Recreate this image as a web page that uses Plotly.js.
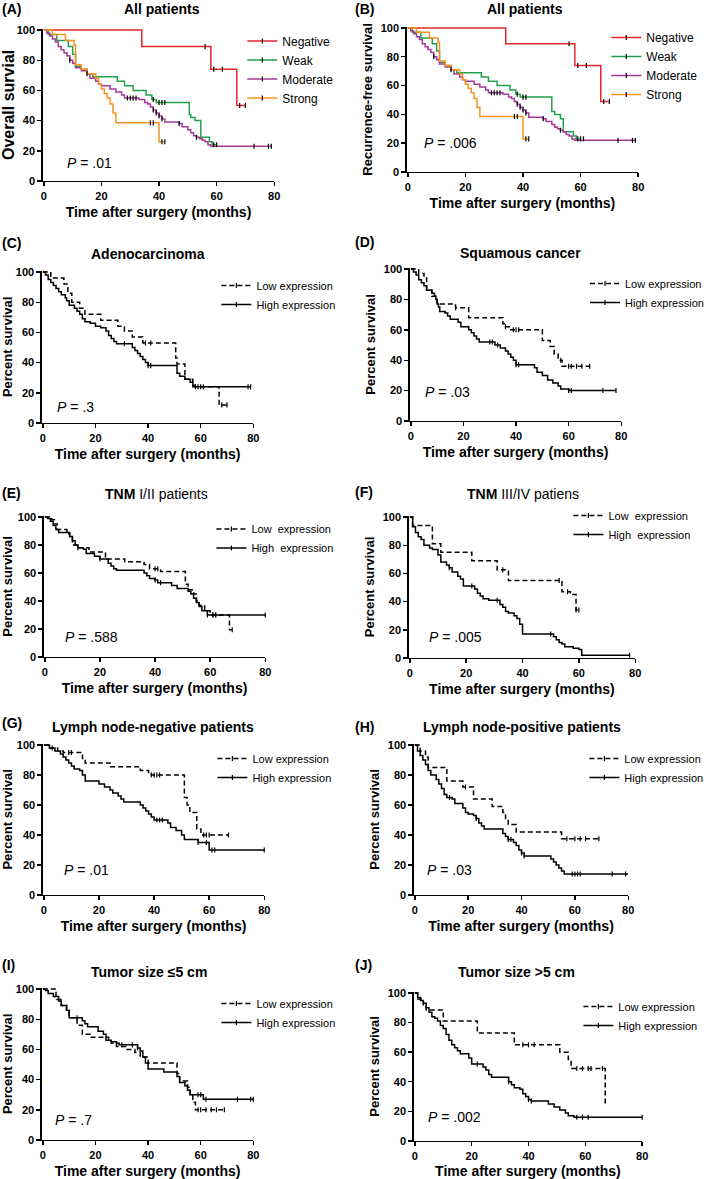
<!DOCTYPE html>
<html><head><meta charset="utf-8">
<script src="https://cdn.plot.ly/plotly-3.0.1.min.js"></script>
<style>html,body{margin:0;padding:0;background:#fff}</style>
</head><body><div id="chart" style="width:709px;height:1179px"></div>
<script>
// ---------------- DATA ----------------
// Panel A - All patients, overall survival
const aNegT = [0, 34, 58, 67, 70];
const aNegS = [100, 89, 74, 50, 50];
const aNegC = [56, 59, 62, 68, 70];
const aWeakT = [0, 1.5, 4.5, 8.5, 10, 11, 13, 15, 17, 25.5, 28, 31, 35.5, 37.5, 39, 50.5, 51, 52.5, 54.5, 57.5, 58.5, 60];
const aWeakS = [100, 97, 93, 89, 84, 76, 74, 71, 69, 66, 63, 60, 57, 54, 52, 44, 42, 40, 29, 26, 24, 24];
const aWeakC = [38, 40, 41, 42, 59, 60];
const aModT = [0,1,2,3,4,5,6,7,8,9,10,11,13,15,16,18,19,20,23,25,27,28,33,35,36,37,38,39,40,41,42,47,48,50,51,52,53,54,55,56,57,58,79];
const aModS = [100,98,96,94,92,89,87,85,83,80,78,75,73,71,68,66,64,63,61,59,57,55,54,52,51,49,47,45,43,41,39,38,36,34,32,30,29,28,27,26,24,23,23];
const aModC = [9, 15, 29, 30, 31, 32, 38, 39, 40, 41, 47, 53, 73, 78, 79];
const aStrT = [0, 3, 7.5, 10.5, 11, 13, 15, 18, 19, 20, 21, 22, 23, 24, 25, 40, 42];
const aStrS = [100, 97, 93, 90, 77, 74, 71, 68, 64, 61, 58, 55, 51, 45, 38.5, 26, 26];
const aStrC = [37, 38, 41, 42];
// Panel B - All patients, recurrence-free survival
const bNegT = [0, 34, 58, 67, 70];
const bNegS = [100, 89, 74, 49, 49];
const bNegC = [56, 59, 62, 68, 70];
const bWeakT = [0, 1.5, 4.5, 8.5, 10, 11, 13, 15, 17, 25.5, 28, 31, 35.5, 37.5, 39, 50, 51, 53, 54, 57.5, 58.5, 60];
const bWeakS = [100, 97, 93, 89, 84, 76, 74, 71, 69, 66, 63, 60, 57, 54, 52, 42, 40, 37, 28, 25, 23, 23];
const bWeakC = [38, 40, 41, 59, 60, 61];
const bModT = [0,1,2,3,4,5,6,7,8,9,10,11,13,15,16,18,19,20,23,25,27,28,33,35,36,37,38,39,40,41,42,47,48,50,51,52,53,54,55,56,57,58,79];
const bModS = [100,98,96,94,92,89,87,85,83,80,78,75,73,71,68,66,64,63,61,59,57,55,54,52,51,49,47,45,43,41,38,37,35,33,31,30,29,28,26,25,23,22,22];
const bModC = [9, 15, 29, 30, 31, 32, 38, 39, 40, 41, 47, 53, 73, 78, 79];
const bStrT = [0, 3, 7.5, 10.5, 11, 13, 15, 18, 19, 20, 21, 22, 23, 24, 25, 40, 42];
const bStrS = [100, 97, 93, 90, 77, 74, 71, 68, 64, 61, 58, 55, 51, 45, 38.5, 23, 23];
const bStrC = [37, 38, 41, 42];
// Panel C - Adenocarcinoma
const cLowT = [0, 3, 8, 9.5, 11, 14, 16, 22, 28.5, 31, 34, 38, 50.5, 51, 54, 57, 67, 70];
const cLowS = [100, 96, 92, 86, 80, 76, 72, 68, 64, 61, 57, 53, 43, 39, 29, 24, 12, 12];
const cLowC = [39, 41, 68, 70];
const cHighT = [0,1,2,3,4,5,6,7,8.5,9,10,12,13,14,15,16,18,20,22,24,25,26,27,28,34,35,36,37,38,39,40,51,52,54,56,57,58,79];
const cHighS = [100,98,95,93,91,89,87,85,83,81,78,76,74,72,69,67,66,64,63,61,58,56,54,52.5,50,48,46,44,42,40,38,33,31,29,27,25,24,24];
const cHighC = [31, 40, 41, 58, 59, 60, 61, 78, 79];
// Panel D - Squamous cancer
const dLowT = [0, 3, 5, 6, 8, 10, 17, 22, 35, 36, 38, 50, 53, 54.5, 56, 57.5, 68];
const dLowS = [100, 97, 94, 86, 82, 77, 74.5, 68, 64, 62, 60, 53, 49, 44, 40, 36, 36];
const dLowC = [17, 36, 39, 40, 41, 57, 60, 61, 63, 65, 68];
const dHighT = [0,1,2,3,4,5,6,8,9,9.5,10,10.5,11,13,14,15,18,19,22,23,24,25,26,32,34,36,37,38,39,40,47,48,50,52,54,56,57,60,78];
const dHighS = [100,98,96,93,91,89,86,84,82,80,77,75,72,71,69,67,65,62,60,58,56,54,52,50,48,46,44,42,40,37,35,32,30,27,25,23,21,20,20];
const dHighC = [30, 31, 33, 40, 41, 60, 61, 73, 78];
// Panel E - TNM I/II
const eLowT = [0, 2.5, 3.5, 4.5, 8, 9, 10, 12, 16, 22, 29, 36, 38, 42, 51, 52, 54, 55, 56, 58, 60, 67, 68];
const eLowS = [100, 98, 95, 91, 88, 86, 80, 78, 75, 70, 68, 66, 63, 61, 52, 48, 45, 40, 37, 33, 30, 19.5, 19.5];
const eLowC = [40, 41, 61, 62, 68];
const eHighT = [0,1,2,3,4,5,9,10,11,12,14,15,18,20,23,24,25,26,36,37,38,40,41,46,48,52,53,54,55,56,57,59,80];
const eHighS = [100,99,97,94,91,89,86,83,80,78,77,74,72,70,67,65,63,62,60,58,56,55,53,51,49,47,45,42,39,36,33,30,30];
const eHighC = [12, 20, 40, 42, 59, 61, 62, 80];
// Panel F - TNM III/IV
const fLowT = [0, 1, 8, 11, 22, 31, 35, 54, 57, 59, 60];
const fLowS = [100, 94, 81, 75, 69, 62.5, 55, 47, 45, 34, 34];
const fLowC = [33, 53, 56, 59, 60];
const fHighT = [0,1,2,3,4,5,7,8,10,11,13,14,15,17,18,19,23,24,25,26,28,32,33,34,35,37,38,39,40,51,52,53,54,55,58,60,61,78];
const fHighS = [100,93,89,86,84,80,78,77,73,68,66,64,61,58,56,51,49,46,44,42,41,38,36,33,32,30,28,24,17,15,13,11,10,8,7,6,2,2];
const fHighC = [14, 22, 31, 50, 78];
// Panel G - Lymph node-negative
const gLowT = [0, 1.5, 5, 7, 14, 15, 24, 35, 38, 39, 51, 52, 53, 55.5, 57, 67];
const gLowS = [100, 98, 96, 95, 91, 88, 85.5, 83, 81, 80, 65, 60, 55, 44, 40, 40];
const gLowC = [9, 10, 39, 40, 41, 42, 58, 59, 60, 67];
const gHighT = [0,2,4,6,7,8,9,10,11,13,14,15,20,22,24,25,27,28,29,35,36,37,38,39,40,45,46,48,50,51,56,60,80];
const gHighS = [100,98,96,94,92,90,88,86,84,83,80,76,74,72,70,68,66,64,62,60,58,56,54,52,50,48,45,43,40,37,35,30,30];
const gHighC = [3, 41, 42, 43, 56, 59, 61, 62, 80];
// Panel H - Lymph node-positive
const hLowT = [0, 2, 4, 5, 12, 18, 22, 29, 33, 34, 35, 38, 55, 69];
const hLowS = [100, 96, 92, 85, 76, 72, 64, 59, 55, 51, 47, 42, 37.5, 37.5];
const hLowC = [19, 57, 60, 62, 64, 69];
const hHighT = [0,1,2,3,4,5,6,8,9,10,11,12,14,15,18,19,20,22,23,24,25,26,33,34,35,37,38,39,40,41,51,52,53,54,55,56,80];
const hHighS = [100,96,93,90,87,83,80,77,74,71,67,65,64,61,58,55,54,53,51,48,46,44,41,39,37,35,33,30,28,26,24,22,20,18,16,14,14];
const hHighC = [13, 23, 35, 36, 40, 41, 59, 60, 61, 62, 74, 79];
// Panel I - Tumor size <=5 cm
const iLowT = [0, 5, 7, 9, 10, 13, 15, 18, 24, 26, 28, 32, 35, 37, 40, 51, 52, 55, 56, 57, 58, 69];
const iLowS = [100, 93, 89, 85, 81, 76, 70, 68, 66, 64, 62, 60, 58, 55, 51, 44, 39, 35, 30, 25, 20, 20];
const iLowC = [59, 60, 62, 64, 66, 69];
const iHighT = [0,1,2,4,6,7,9,10,15,16,17,21,23,24,25,26,28,29,36,37,38,39,40,46,51,52,54,55,56,61,80];
const iHighS = [100,99,97,95,92,89,86,81,79,77,75,72,70,68,66,65,64,63,61,59,55,51,47,45,42,38,36,33,30,27,27];
const iHighC = [13, 30, 34, 36, 59, 60, 62, 74, 79, 80];
// Panel J - Tumor size >5 cm
const jLowT = [0, 1, 3, 4, 10, 22, 35, 51, 54, 55, 67];
const jLowS = [100, 96, 92, 88.5, 81, 73, 65, 60, 55, 49, 24];
const jLowC = [38, 40, 42, 57, 59, 61, 62, 66];
const jHighT = [0,1,2,3,4,5,6,7,8,9,10,11,12,13,14,15,16,19,20,24,25,26,27,33,34,35,37,38,39,40,41,47,49,51,53,54,56,80];
const jHighS = [100,97,95,93,90,87,84,83,81,78,76,72,68,65,63,61,59,56,52,50,48,45,43,40,38,36,35,32,30,28,27,25,23,21,19,17,16,16];
const jHighC = [22, 33, 40, 41, 57, 59, 61, 80];

const groupNames4 = ['Negative', 'Weak', 'Moderate', 'Strong'];
const exprNames = ['Low expression', 'High expression'];
const pValues = ['.01', '.006', '.3', '.03', '.588', '.005', '.01', '.03', '.7', '.002'];
const xTicks = [0, 20, 40, 60, 80];
const yTicks = [0, 20, 40, 60, 80, 100];

// ---------------- STYLE / LAYOUT ----------------
const W = 709, H = 1179;
const FONT = 'Liberation Sans, Arial, Helvetica, sans-serif';
const COLORS4 = ['#e3262c', '#22a14c', '#a33a98', '#f6921e'];
const DASH = '5px,3px';

function g4(T1,S1,C1,T2,S2,C2,T3,S3,C3,T4,S4,C4){
  const d=[[T1,S1,C1],[T2,S2,C2],[T3,S3,C3],[T4,S4,C4]];
  return d.map((v,i)=>({name:groupNames4[i],T:v[0],S:v[1],C:v[2],color:COLORS4[i],dash:'solid'}));
}
function g2(T1,S1,C1,T2,S2,C2,nm){
  const n = nm || exprNames;
  return [{name:n[0],T:T1,S:S1,C:C1,color:'#000',dash:DASH},{name:n[1],T:T2,S:S2,C:C2,color:'#000',dash:'solid'}];
}
const exprSp = ['Low\u00a0 expression', 'High\u00a0 expression'];

// box: [x at 0, x at 80, y at 100, y at 0] in pixels
const panels = [
 {lab:'(A)', labPos:[0,9], title:'<b>All patients</b>', tPos:[162,9], box:[44,275,30,181], yTitle:'Overall survial', ySize:16, leg:[243,26.5], lfs:12, pPos:[7.3,12], curves:g4(aNegT,aNegS,aNegC,aWeakT,aWeakS,aWeakC,aModT,aModS,aModC,aStrT,aStrS,aStrC)},
 {lab:'(B)', labPos:[354,9], title:'<b>All patients</b>', tPos:[526,9], box:[409,640,28,172], yTitle:'Recurrence-free survival', ySize:13, leg:[608,23], lfs:12, pPos:[4.8,20], curves:g4(bNegT,bNegS,bNegC,bWeakT,bWeakS,bWeakC,bModT,bModS,bModC,bStrT,bStrS,bStrC)},
 {lab:'(C)', labPos:[0,243], title:'<b>Adenocarcinoma</b>', tPos:[148,254], box:[43,254,272,423], yTitle:'Percent survival', ySize:13, leg:[217,271], lfs:11, pPos:[4.5,10.6], curves:g2(cLowT,cLowS,cLowC,cHighT,cHighS,cHighC)},
 {lab:'(D)', labPos:[354,242], title:'<b>Squamous cancer</b>', tPos:[522,253], box:[412,623,269,421], yTitle:'Percent survival', ySize:13, leg:[587,269], lfs:11, pPos:[4.5,19], curves:g2(dLowT,dLowS,dLowC,dHighT,dHighS,dHighC)},
 {lab:'(E)', labPos:[0,493], title:'<b>TNM</b> I/II patients', tPos:[157,494], box:[45,266,517,657], yTitle:'Percent survival', ySize:13, leg:[212,514.5], lfs:11, pPos:[6.5,14], curves:g2(eLowT,eLowS,eLowC,eHighT,eHighS,eHighC,exprSp)},
 {lab:'(F)', labPos:[354,492], title:'<b>TNM</b> III/IV patiens', tPos:[524,494], box:[411,637,517,658], yTitle:'Percent survival', ySize:13, leg:[570,501], lfs:11, pPos:[6,15], curves:g2(fLowT,fLowS,fLowC,fHighT,fHighS,fHighC,exprSp)},
 {lab:'(G)', labPos:[0,723], title:'<b>Lymph node-negative patients</b>', tPos:[153,727], box:[44,265,745,895], yTitle:'Percent survival', ySize:13, leg:[213,744], lfs:11, pPos:[6.5,17], curves:g2(gLowT,gLowS,gLowC,gHighT,gHighS,gHighC)},
 {lab:'(H)', labPos:[354,727], title:'<b>Lymph node-positive patients</b>', tPos:[523,727], box:[416,630,745,895], yTitle:'Percent survival', ySize:13, leg:[586,744], lfs:11, pPos:[4,17], curves:g2(hLowT,hLowS,hLowC,hHighT,hHighS,hHighC)},
 {lab:'(I)', labPos:[0,965], title:'<b>Tumor size \u22645 cm</b>', tPos:[149,972], box:[43,254,989,1140], yTitle:'Percent survival', ySize:13, leg:[217,989], lfs:11, pPos:[3.8,13], curves:g2(iLowT,iLowS,iLowC,iHighT,iHighS,iHighC)},
 {lab:'(J)', labPos:[354,965], title:'<b>Tumor size >5 cm</b>', tPos:[518,972], box:[416,644,993,1141], yTitle:'Percent survival', ySize:13, leg:[580,992], lfs:11, pPos:[3.9,16], curves:g2(jLowT,jLowS,jLowC,jHighT,jHighS,jHighC)}
];

function stepAt(T, S, t){ let v = S[0]; for (let i = 0; i < T.length; i++){ if (T[i] <= t) v = S[i]; else break; } return v; }

const XPAD = 0.4, YPAD = 0.8;
const traces = [];
const layout = {
  width: W, height: H, margin: {l:0, r:0, t:0, b:0},
  paper_bgcolor: '#fff', plot_bgcolor: 'rgba(0,0,0,0)',
  font: {family: FONT, color: '#000', size: 12},
  showlegend: true, annotations: []
};

panels.forEach((p, k) => {
  const n = k + 1, sfx = n > 1 ? String(n) : '';
  const xa = 'x' + sfx, ya = 'y' + sfx, lg = 'legend' + sfx;
  const [x0, x80, y100, y0] = p.box;
  const kx = (x80 - x0) / 80, ky = (y0 - y100) / 100;
  layout['xaxis' + sfx] = {
    domain: [(x0 - XPAD * kx) / W, x80 / W], range: [-XPAD, 80], anchor: ya,
    showline: true, linecolor: '#000', linewidth: 1.4, ticks: 'outside', ticklen: 4, tickwidth: 1.4, tickcolor: '#000',
    tickvals: xTicks, showgrid: false, zeroline: false, fixedrange: true,
    tickfont: {family: FONT, size: 11, weight: 'bold', color: '#000'},
    title: {text: '<b>Time after surgery (months)</b>', font: {family: FONT, size: 14, color: '#000'}, standoff: 6}
  };
  layout['yaxis' + sfx] = {
    domain: [1 - y0 / H, 1 - (y100 - YPAD * ky) / H], range: [0, 100 + YPAD], anchor: xa,
    showline: true, linecolor: '#000', linewidth: 1.4, ticks: 'outside', ticklen: 4, tickwidth: 1.4, tickcolor: '#000',
    tickvals: yTicks, showgrid: false, zeroline: false, fixedrange: true,
    tickfont: {family: FONT, size: 11, weight: 'bold', color: '#000'},
    title: {text: '<b>' + p.yTitle + '</b>', font: {family: FONT, size: p.ySize, color: '#000'}, standoff: 5}
  };
  layout[lg] = {
    x: p.leg[0] / W, y: 1 - p.leg[1] / H, xanchor: 'left', yanchor: 'top',
    bgcolor: 'rgba(0,0,0,0)', borderwidth: 0, itemwidth: 30, tracegroupgap: 0,
    font: {family: FONT, size: p.lfs, color: '#000'}
  };
  p.curves.forEach((c) => {
    traces.push({
      type: 'scatter', mode: 'lines', x: c.T, y: c.S, xaxis: xa, yaxis: ya,
      line: {shape: 'hv', color: c.color, width: 1.5, dash: c.dash},
      showlegend: false, hoverinfo: 'skip', cliponaxis: false
    });
  });
  p.curves.forEach((c) => {
    const cx = [], cy = [];
    c.C.forEach((t) => { cx.push(t, null); cy.push(stepAt(c.T, c.S, t), null); });
    traces.push({
      type: 'scatter', mode: 'lines+markers', x: cx, y: cy, xaxis: xa, yaxis: ya,
      name: c.name, legend: lg, connectgaps: false,
      line: {shape: 'hv', color: c.color, width: 1.5, dash: c.dash},
      marker: {symbol: 'line-ns-open', size: 3.6, color: '#000', line: {color: '#000', width: 1.2}},
      hoverinfo: 'skip', cliponaxis: false
    });
  });
  layout.annotations.push({
    xref: 'paper', yref: 'paper', x: p.labPos[0] / W, y: 1 - p.labPos[1] / H, xanchor: 'left', yanchor: 'middle',
    text: '<b>' + p.lab + '</b>', showarrow: false, font: {family: FONT, size: 14, color: '#000'}
  });
  layout.annotations.push({
    xref: 'paper', yref: 'paper', x: p.tPos[0] / W, y: 1 - p.tPos[1] / H, xanchor: 'center', yanchor: 'middle',
    text: p.title, showarrow: false, font: {family: FONT, size: 14, color: '#000'}
  });
  layout.annotations.push({
    xref: xa, yref: ya, x: p.pPos[0], y: p.pPos[1], xanchor: 'left', yanchor: 'middle',
    text: '<i>P</i> = ' + pValues[k], showarrow: false, font: {family: FONT, size: 14, color: '#000'}
  });
});

Plotly.newPlot('chart', traces, layout, {staticPlot: true, displayModeBar: false});
</script></body></html>
